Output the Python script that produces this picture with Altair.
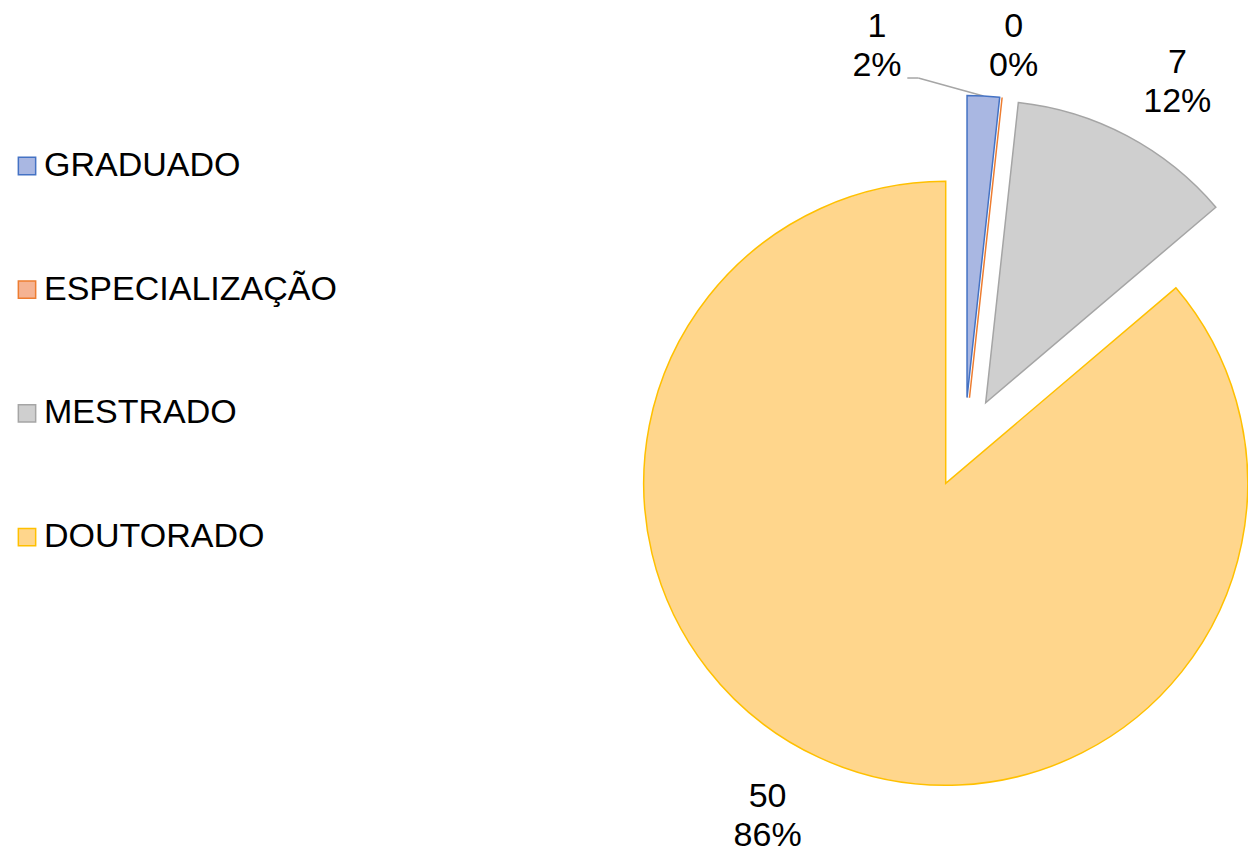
import altair as alt
import pandas as pd

# ---- data ----
categories = ["GRADUADO", "ESPECIALIZAÇÃO", "MESTRADO", "DOUTORADO"]
counts = [1, 0, 7, 50]

# ---- styles ----
fills = ["#A9B7E2", "#F5B393", "#CFCFCF", "#FFD68C"]
strokes = ["#4472C4", "#ED7D31", "#A5A5A5", "#FFC000"]
FONT = "Liberation Sans"
CX, CY = 956.6, 434.5      # pie centre (px)
R = 302                    # pie radius (px)
EXPLODE = 45               # explosion distance (px)
LINE_H = 39
# label placement: (angle shift in degrees, distance from centre)
label_place = {
    "GRADUADO": (-15.5, 408),
    "ESPECIALIZAÇÃO": (0.8, 401.5),
    "MESTRADO": (2.5, 420),
    "DOUTORADO": (3.1, 420.6),
}
LEADER_FOR = "GRADUADO"


def lookup(d, i):
    expr = str(d[categories[-1]][i])
    for c in categories[:-1][::-1]:
        expr = f"(datum.cat === '{c}' ? {d[c][i]} : {expr})"
    return expr


df = pd.DataFrame({"cat": categories, "count": counts, "idx": list(range(len(categories)))})

base = (
    alt.Chart(df)
    .transform_window(cum="sum(count)", sort=[alt.SortField("idx")], frame=[None, 0])
    .transform_joinaggregate(total="sum(count)")
    .transform_calculate(a0="(datum.cum - datum.count) / datum.total * 2 * PI")
    .transform_calculate(a1="datum.cum / datum.total * 2 * PI")
    .transform_calculate(mid="(datum.a0 + datum.a1) / 2")
    .transform_calculate(px=f"{CX} + {EXPLODE} * sin(datum.mid)")
    .transform_calculate(py=f"{CY} - {EXPLODE} * cos(datum.mid)")
    .transform_calculate(la=f"datum.mid + {lookup(label_place, 0)} * PI / 180")
    .transform_calculate(lr=lookup(label_place, 1))
    .transform_calculate(lx=f"{CX} + datum.lr * sin(datum.la)")
    .transform_calculate(ly=f"{CY} - datum.lr * cos(datum.la)")
    .transform_calculate(ex=f"datum.px + {R} * sin(datum.mid)")
    .transform_calculate(ey=f"datum.py - {R} * cos(datum.mid)")
    .transform_calculate(label="datum.count + '\\n' + format(datum.count / datum.total, '.0%')")
)

legend = alt.Legend(
    title=None,
    orient="none",
    legendX=2,
    legendY=141,
    padding=0,
    rowPadding=89.7,
    labelFontSize=34,
    labelFont=FONT,
    labelColor="black",
    labelOffset=0,
    symbolType="square",
    symbolSize=300,
    symbolStrokeWidth=1.5,
    labelLimit=600,
)

arcs = base.mark_arc(radius=R, strokeWidth=1.5).encode(
    theta=alt.Theta("a0:Q", scale=None),
    theta2="a1:Q",
    x=alt.X("px:Q", scale=None),
    y=alt.Y("py:Q", scale=None),
    fill=alt.Fill("cat:N", scale=alt.Scale(domain=categories, range=fills), legend=legend),
    stroke=alt.Stroke("cat:N", scale=alt.Scale(domain=categories, range=strokes), legend=legend),
)

labels = base.mark_text(
    font=FONT, fontSize=34, lineBreak="\n", lineHeight=LINE_H, dy=-17,
    align="center", baseline="middle", color="black",
).encode(
    x=alt.X("lx:Q", scale=None),
    y=alt.Y("ly:Q", scale=None),
    text="label:N",
)

lead = base.transform_filter(f"datum.cat === '{LEADER_FOR}'").transform_calculate(
    sx="datum.lx + 30.3", sy="datum.ly + 34", kx="datum.lx + 41.3"
)
leader1 = lead.mark_rule(color="#A6A6A6", strokeWidth=1.5).encode(
    x=alt.X("sx:Q", scale=None), y=alt.Y("sy:Q", scale=None),
    x2="kx:Q", y2="sy:Q",
)
leader2 = lead.mark_rule(color="#A6A6A6", strokeWidth=1.5).encode(
    x=alt.X("kx:Q", scale=None), y=alt.Y("sy:Q", scale=None),
    x2="ex:Q", y2="ey:Q",
)

chart = (
    alt.layer(leader1, leader2, arcs, labels)
    .properties(width=1240, height=842, autosize=alt.AutoSizeParams(type="none"), padding=0)
    .configure_view(stroke=None)
)

chart.save("out.html", embed_options={"renderer": "svg", "actions": False})
